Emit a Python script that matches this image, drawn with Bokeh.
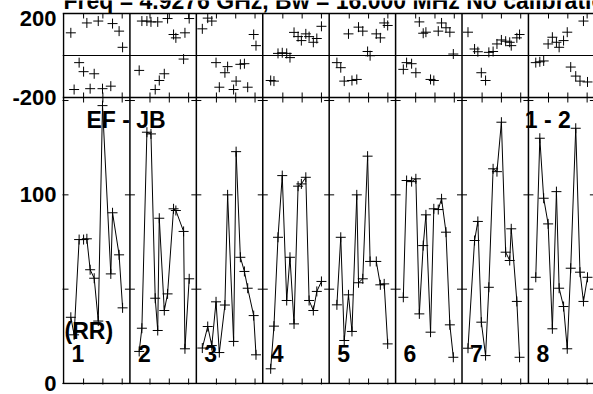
import math
from bokeh.plotting import figure
from bokeh.models import Range1d, LinearAxis, FixedTicker
from bokeh.core.properties import value
from bokeh.embed import file_html
from bokeh.resources import INLINE

# ---------------- texts ----------------
TITLE = "Freq = 4.9276 GHz, Bw = 16.000 MHz   No calibration"
BASELINE_LABEL = "EF - JB"
POL_LABEL = "(RR)"
RIGHT_LABEL = "1 - 2"
PANEL_LABELS = ["1", "2", "3", "4", "5", "6", "7", "8"]

# ---------------- data (time within each panel, amplitude, phase) ----------------
t_1 = [0.38, 0.55, 0.81, 1.04, 1.21, 1.38, 1.59, 1.80, 2.02, 2.45, 2.54, 2.88, 3.06]
amp_1 = [35.1, 25.8, 76.3, 76.3, 76.7, 60.3, 55.8, 33.1, 147.3, 58.1, 90.5, 68.2, 40.1]
phase_1 = [108, -162, -34, -77, 155, -158, -87, 164, -158, -146, 152, 116, 39]

t_2 = [0.48, 0.62, 0.88, 1.09, 1.31, 1.44, 1.52, 1.78, 1.95, 2.26, 2.38, 2.78, 2.85, 3.07]
amp_2 = [17.0, 29.3, 133.2, 132.3, 45.2, 28.1, 87.6, 38.7, 47.5, 92.6, 91.7, 80.6, 18.4, 55.5]
phase_2 = [-71, 164, 164, 160, -162, 160, -119, -87, 176, 100, 84, -17, 108, 176]

t_3 = [0.31, 0.59, 0.80, 1.02, 1.19, 1.48, 1.62, 1.93, 2.06, 2.28, 2.49, 2.66, 2.97, 3.09]
amp_3 = [18.8, 30.2, 20.1, 43.3, 16.4, 41.6, 100.0, 22.3, 122.9, 66.9, 59.4, 50.5, 36.0, 15.2]
phase_3 = [127, 178, 164, -34, -151, -82, -53, -162, -122, -42, -39, -151, 100, 47]

t_4 = [0.41, 0.58, 0.79, 1.01, 1.24, 1.41, 1.62, 1.83, 2.00, 2.23, 2.40, 2.62, 2.80, 3.04]
amp_4 = [7.8, 30.4, 77.5, 110.2, 44.0, 66.9, 31.6, 104.6, 105.8, 109.3, 44.0, 38.7, 48.8, 54.1]
phase_4 = [-119, -122, 10, 13, 10, -10, 110, 90, 71, 103, 90, 63, 81, 139]

t_5 = [0.40, 0.60, 0.78, 1.00, 1.18, 1.43, 1.52, 1.74, 1.99, 2.12, 2.44, 2.65, 2.85, 3.03]
amp_5 = [41.7, 77.5, 22.8, 47.0, 27.6, 100.0, 53.4, 55.5, 120.5, 64.7, 64.7, 52.3, 52.8, 21.0]
phase_5 = [-34, -58, -122, 103, -119, -114, 135, 116, 19, -1, 103, 84, 155, 143]

t_6 = [0.40, 0.57, 0.83, 1.05, 1.23, 1.43, 1.57, 1.81, 1.98, 2.21, 2.38, 2.61, 2.81, 2.99]
amp_6 = [45.7, 107.6, 107.0, 108.5, 36.9, 73.1, 89.4, 27.2, 92.6, 92.2, 97.9, 80.2, 31.1, 13.9]
phase_6 = [-66, -34, -39, -82, 160, 106, 111, -114, -119, 116, 155, 132, 111, 7]

t_7 = [0.31, 0.65, 0.82, 1.00, 1.22, 1.39, 1.61, 1.81, 2.04, 2.26, 2.47, 2.55, 2.84, 2.98]
amp_7 = [18.7, 75.8, 85.9, 32.5, 14.8, 51.0, 113.8, 112.3, 138.5, 69.6, 65.2, 82.0, 43.5, 13.9]
phase_7 = [111, 31, 18, -82, -119, 15, 19, 55, 74, 68, 63, 47, 84, 100]

t_8 = [0.38, 0.59, 0.79, 1.02, 1.24, 1.45, 1.59, 1.82, 2.01, 2.19, 2.45, 2.67, 2.85, 3.06]
amp_8 = [56.3, 130.0, 98.2, 84.6, 29.0, 101.7, 50.5, 40.8, 18.4, 61.1, 135.3, 59.0, 43.5, 56.3]
phase_8 = [-34, -30, -26, 55, 87, 63, 39, 71, 111, -55, -98, -122, 164, -126]

times = [t_1, t_2, t_3, t_4, t_5, t_6, t_7, t_8]
amps = [amp_1, amp_2, amp_3, amp_4, amp_5, amp_6, amp_7, amp_8]
phases = [phase_1, phase_2, phase_3, phase_4, phase_5, phase_6, phase_7, phase_8]

# ---------------- axes definitions ----------------
AMP_MAX = 151.6
AMP_TICKS = [0, 50, 100, 150]
AMP_LABELS = {0: "0", 100: "100"}
PHASE_LIM = 200
PHASE_LABELS = ["-200", "200"]
TIME_TICKS = [1.04, 2.04, 3.04]
PANEL_SPAN = 3.44

# ---------------- layout (pixels) ----------------
W_FIG, H_FIG = 593, 394
LEFT, BOTTOM = 62, 10          # frame starts 1px left of the first panel border
STRIP_TOP = 13                 # space above the phase strip (holds the clipped title)
PHASE_H, AMP_H = 84, 286
FRAME_H = H_FIG - BOTTOM
FRAME_W = W_FIG - LEFT
n = len(times)
x_end = n * PANEL_SPAN - 0.07
px = x_end / (FRAME_W - 1)     # data units per pixel (x)
amp_px = AMP_MAX / AMP_H       # amplitude units per pixel
ph_px = 2 * PHASE_LIM / PHASE_H
zero_row = STRIP_TOP + PHASE_H + AMP_H          # pixel row of amplitude 0
y_top = zero_row * amp_px
y_bot = -(FRAME_H - zero_row) * amp_px
ph_top = PHASE_LIM + STRIP_TOP * ph_px
ph_bot = ph_top - FRAME_H * ph_px
y_strip = AMP_MAX + PHASE_H * amp_px            # top of the phase strip, amplitude units

FONT = "Liberation Sans"

p = figure(width=W_FIG, height=H_FIG, output_backend="svg", toolbar_location=None,
           x_range=Range1d(-px, x_end), y_range=Range1d(y_bot, y_top),
           x_axis_type=None, y_axis_type=None,
           min_border_left=LEFT, min_border_right=0, min_border_top=0,
           min_border_bottom=BOTTOM, outline_line_color=None,
           background_fill_color="white", border_fill_color="white")
p.extra_y_ranges = {"phase": Range1d(ph_bot, ph_top)}

# global x positions
xs = [[k * PANEL_SPAN + t for t in times[k]] for k in range(n)]
x_all = [x for row in xs for x in row]
a_all = [a for row in amps for a in row]
ph_all = [v for row in phases for v in row]

# panel borders
borders = [k * PANEL_SPAN for k in range(n + 1)]
nb = len(borders) - 1
p.segment(x0=borders[:-1], y0=[0] * nb, x1=borders[:-1], y1=[y_strip] * nb,
          line_color="black", line_width=1.5)
p.hspan(y=[0, AMP_MAX], line_color="black", line_width=1.5)
p.hspan(y=[PHASE_LIM], y_range_name="phase", line_color="black", line_width=1.5)
p.hspan(y=[0], y_range_name="phase", line_color="black", line_width=1)

# tick marks (inward on every panel border)
tick_len = 10
p.scatter([b for b in borders for v in AMP_TICKS], [v for b in borders for v in AMP_TICKS],
          marker="dash", size=tick_len, line_color="black", line_width=1)
tx = [k * PANEL_SPAN + t for k in range(n) for t in TIME_TICKS]
p.scatter(tx + tx, [0] * len(tx) + [AMP_MAX] * len(tx), marker="dash", angle=math.pi / 2,
          size=tick_len, line_color="black", line_width=1)
p.scatter(tx, [PHASE_LIM - tick_len / 4 * ph_px] * len(tx), marker="dash", angle=math.pi / 2,
          size=tick_len / 2, line_color="black", line_width=1, y_range_name="phase")

# data
p.multi_line(xs, amps, line_color="black", line_width=1)
p.scatter(x_all, a_all, marker="cross", size=10, line_color="black", line_width=1)
p.scatter(x_all, ph_all, marker="cross", size=10, line_color="black", line_width=1,
          y_range_name="phase")

# left axis: amplitude labels plus the phase-strip limits (-200 at the strip bottom, 200 at its top)
top_label_pos = y_strip - 4.7 * amp_px
tick_pos = [0, 100, AMP_MAX, top_label_pos]
overrides = {0: AMP_LABELS[0], 100: AMP_LABELS[100], AMP_MAX: PHASE_LABELS[0],
             top_label_pos: PHASE_LABELS[1]}
axis = LinearAxis(ticker=FixedTicker(ticks=tick_pos), major_label_overrides=overrides,
                  major_tick_in=0, major_tick_out=0, minor_tick_in=0, minor_tick_out=0,
                  axis_line_color=None, major_label_standoff=6,
                  major_label_text_font=FONT, major_label_text_font_size="22px",
                  major_label_text_font_style="bold", major_label_text_color="black")
p.add_layout(axis, "left")

# panel annotations
txt = dict(text_font=value(FONT), text_font_style="bold", text_font_size="23px",
           text_color="black", text_baseline="middle")
p.text(x=[23 * px], y=[139.5], text=[BASELINE_LABEL], text_align="left", **txt)
p.text(x=[n * PANEL_SPAN - 24 * px], y=[139.5], text=[RIGHT_LABEL], text_align="right", **txt)
p.text(x=[1 * px], y=[28.0], text=[POL_LABEL], text_align="left", **txt)
p.text(x=[k * PANEL_SPAN + 8 * px for k in range(n)], y=[15.9] * n, text=PANEL_LABELS,
       text_align="left", **txt)

# title: above the phase strip, cut by the top of the picture as in the reference
p.text(x=[0], y=[PHASE_LIM + 13 * ph_px], text=[TITLE], y_range_name="phase",
       text_font=value(FONT), text_font_style="bold", text_font_size="23px",
       text_color="black", text_baseline="alphabetic", text_align="left")

open("out.html", "w").write(file_html(p, INLINE))
